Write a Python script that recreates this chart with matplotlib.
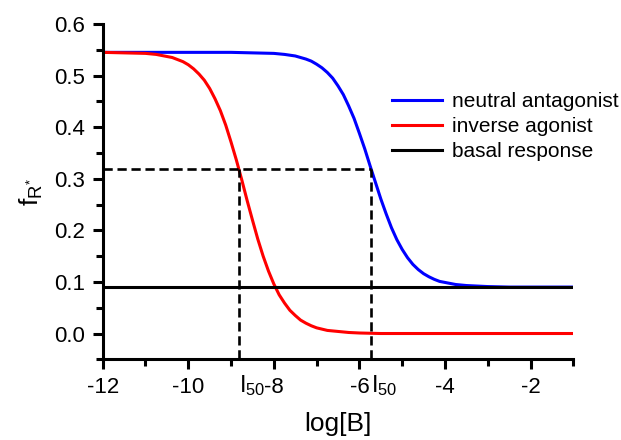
import numpy as np
import matplotlib.pyplot as plt

plt.rcParams['font.family'] = ['Liberation Sans', 'DejaVu Sans']
plt.rcParams['mathtext.fontset'] = 'custom'
plt.rcParams['mathtext.rm'] = 'Liberation Sans'
plt.rcParams['mathtext.it'] = 'Liberation Sans'
plt.rcParams['axes.unicode_minus'] = False

# values
red_x = [-12, -11.5, -11, -10.75, -10.625, -10.5, -10.375, -10.25, -10.125,
         -10, -9.875, -9.75, -9.625, -9.5, -9.375, -9.25, -9.125, -9,
         -8.875, -8.75, -8.625, -8.5, -8.375, -8.25, -8.125, -8, -7.875,
         -7.75, -7.625, -7.5, -7.375, -7.25, -7.125, -7, -6.75, -6.5, -6.25,
         -6, -5.5, -5, -1]
red_y = [0.545, 0.544, 0.543, 0.541, 0.539, 0.537, 0.535, 0.531, 0.527,
         0.521, 0.513, 0.503, 0.491, 0.475, 0.455, 0.432, 0.404, 0.371,
         0.336, 0.298, 0.258, 0.220, 0.183, 0.150, 0.121, 0.096, 0.075,
         0.059, 0.045, 0.035, 0.026, 0.020, 0.015, 0.011, 0.006, 0.004, 0.002,
         0.001, 0.0, 0.0, 0.0]

blue_x = [-12, -9, -8.5, -8, -7.75, -7.5, -7.375, -7.25, -7.125, -7, -6.875,
          -6.75, -6.625, -6.5, -6.375, -6.25, -6.125, -6, -5.875, -5.75,
          -5.625, -5.5, -5.375, -5.25, -5.125, -5, -4.875, -4.75, -4.625,
          -4.5, -4.375, -4.25, -4.125, -4, -3.75, -3.5, -3.25, -3, -2.5, -2,
          -1]
blue_y = [0.545, 0.545, 0.544, 0.543, 0.541, 0.538, 0.535, 0.532, 0.528,
          0.522, 0.515, 0.506, 0.495, 0.480, 0.463, 0.441, 0.417, 0.388,
          0.358, 0.325, 0.293, 0.261, 0.232, 0.205, 0.182, 0.163, 0.147,
          0.134, 0.124, 0.116, 0.110, 0.105, 0.101, 0.099, 0.095, 0.093,
          0.092, 0.091, 0.090, 0.090, 0.090]

basal_x = [-12, -1]
basal_y = [0.09, 0.09]

half_level = 0.318
i50_red = -8.82
i50_blue = -5.72

fig = plt.figure(figsize=(6.21, 4.4), dpi=100)
ax = fig.add_axes([0.1654, 0.1834, 0.7578, 0.7621])

ax.plot(blue_x, blue_y, color='#0000ff', lw=2.2, label='neutral antagonist')
ax.plot(red_x, red_y, color='#ff0000', lw=2.2, label='inverse agonist')
ax.plot(basal_x, basal_y, color='black', lw=2.2, label='basal response')

# dashed I50 guides
dash = (0, (3.5, 1.8))
ax.plot([-12, i50_blue], [half_level, half_level], color='black', lw=1.9,
        ls=dash)
ax.plot([i50_red, i50_red], [-0.05, half_level], color='black', lw=1.9,
        ls=dash)
ax.plot([i50_blue, i50_blue], [-0.05, half_level], color='black', lw=1.9,
        ls=dash)

ax.set_xlim(-12, -1)
ax.set_ylim(-0.05, 0.6)
ax.set_xticks([-12, -10, -8, -6, -4, -2])
ax.set_xticks([-11, -9, -7, -5, -3, -1], minor=True)
ax.set_yticks([0.0, 0.1, 0.2, 0.3, 0.4, 0.5, 0.6])
ax.set_yticks([-0.05, 0.05, 0.15, 0.25, 0.35, 0.45, 0.55], minor=True)
ax.set_yticklabels(['0.0', '0.1', '0.2', '0.3', '0.4', '0.5', '0.6'])

for s in ['top', 'right']:
    ax.spines[s].set_visible(False)
for s in ['left', 'bottom']:
    ax.spines[s].set_linewidth(2.2)
ax.tick_params(which='major', direction='out', length=7, width=2.2,
               labelsize=16, pad=6)
ax.tick_params(which='minor', direction='out', length=5, width=2.2)

ax.set_xlabel('log[B]', fontsize=19, labelpad=10)
ax.set_ylabel(r'$\mathregular{f_{R^{*}}}$', fontsize=19, labelpad=6)

trans = ax.get_xaxis_transform()
for xv in [i50_red, i50_blue]:
    ax.text(xv, -0.04, r'$\mathregular{I_{50}}$', transform=trans,
            ha='left', va='top', fontsize=17)

ax.legend(loc='center left', bbox_to_anchor=(0.614, 0.694), frameon=False,
          fontsize=15, handlelength=2.4, handletextpad=0.5,
          labelspacing=0.3, borderpad=0, borderaxespad=0)

plt.savefig('out.png', dpi=100)
plt.close(fig)
